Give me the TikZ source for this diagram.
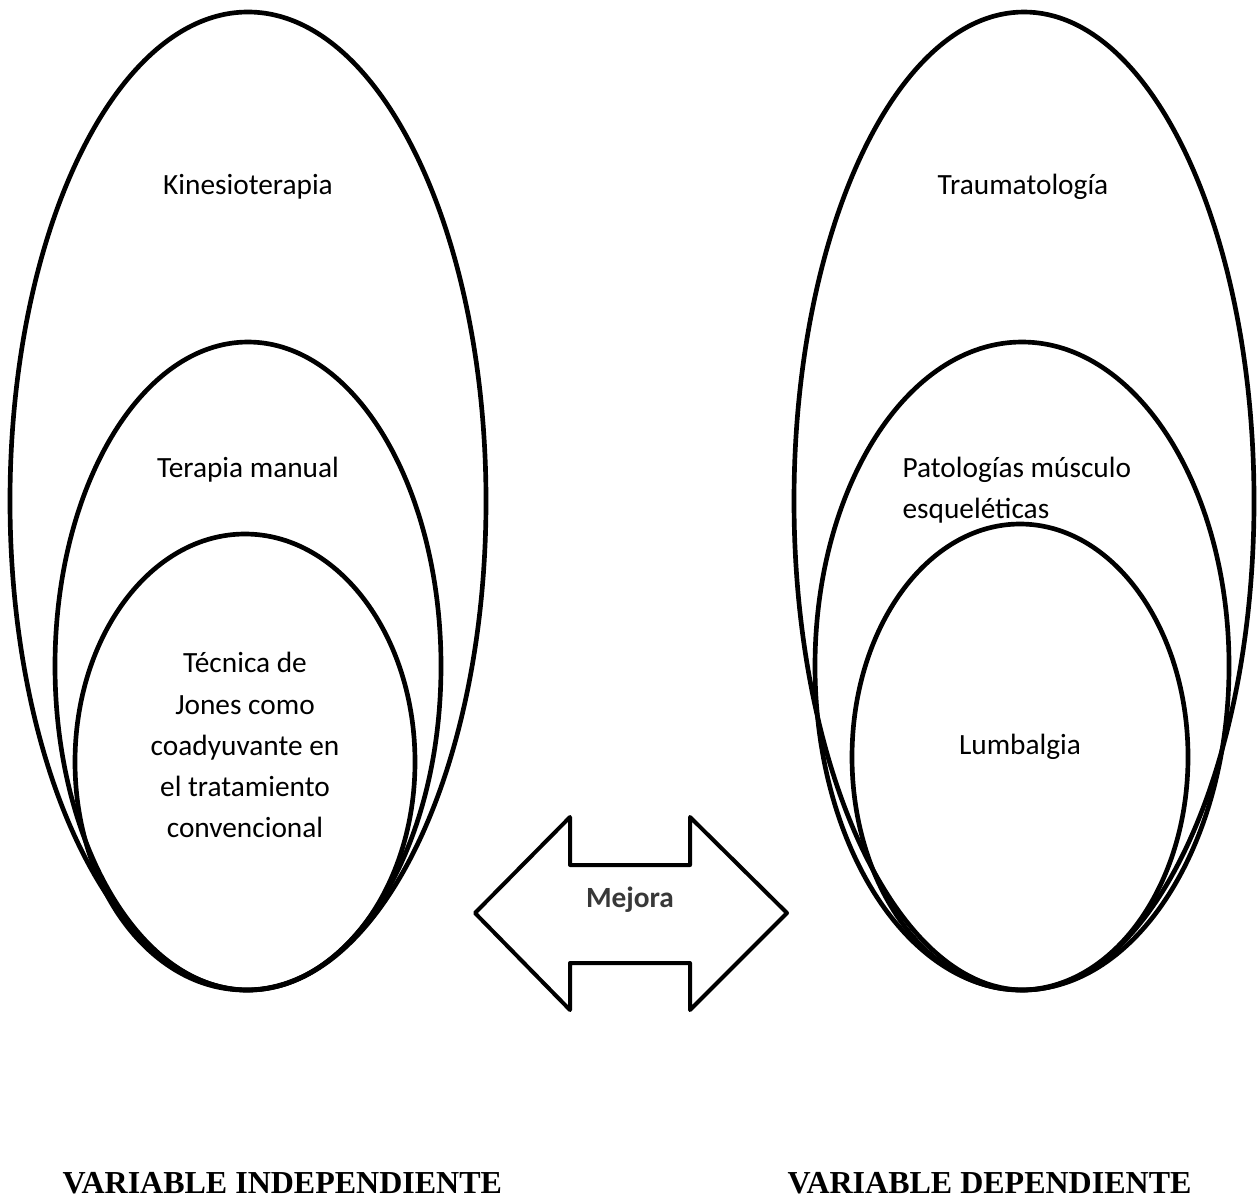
\documentclass[tikz,border=0pt]{standalone}
\usepackage{fontspec}
\setmainfont{Carlito}
\newfontfamily\titlefont{Liberation Serif}
\usepackage{tikz}
\tikzset{
    ring/.style={draw=black, line width=1.75pt},
    bigarrow/.style={draw=black, line width=1.5pt, line join=round},
    label/.style={font={\fontsize{11}{15.4}\selectfont}, text=black, inner sep=0pt},
    boldlabel/.style={font={\fontsize{11}{15.4}\selectfont\bfseries}, text=black!78, inner sep=0pt},
    title/.style={font={\fontsize{12}{14}\selectfont\titlefont\bfseries}, inner sep=0pt}
}

\begin{document}
\begin{tikzpicture}[x=0.375pt, y=-0.375pt]
\useasboundingbox (0,0) rectangle (1257,1200);
% left side
\draw[style={ring}] (248,501) ellipse [x radius=238, y radius=489];
\draw[style={ring}] (248,666) ellipse [x radius=193, y radius=324];
\draw[style={ring}] (245,762) ellipse [x radius=170, y radius=228];
\node[label] (kine) at (248,187) {Kinesioterapia};
\node[label] (manual) at (248,470) {Terapia manual};
\node[label, align=center] (jones) at (245,745)
  {Técnica de\\Jones como\\coadyuvante en\\el tratamiento\\convencional};
% right side
\draw[style={ring}] (1024,501) ellipse [x radius=230, y radius=489];
\draw[style={ring}] (1022,666) ellipse [x radius=207, y radius=324];
\draw[style={ring}] (1020,757) ellipse [x radius=168, y radius=233];
\node[label] (trauma) at (1023,187) {Traumatología};
\node[label, align=left, anchor=west] (pato) at (902,490)
  {Patologías músculo\\esqueléticas};
\node[label] (lumba) at (1020,747) {Lumbalgia};
% arrow
\draw[style={bigarrow}]
  (475,913) -- (570,817) -- (570,865) -- (690,865) -- (690,817)
  -- (787,913) -- (690,1010) -- (690,963) -- (570,963) -- (570,1010) -- cycle;
\node[boldlabel] (mejora) at (630,900) {Mejora};
% titles
\node[title, anchor=base west] (indep) at (62,1193) {VARIABLE INDEPENDIENTE};
\node[title, anchor=base east] (dep) at (1192,1193) {VARIABLE DEPENDIENTE};
\end{tikzpicture}
\end{document}
